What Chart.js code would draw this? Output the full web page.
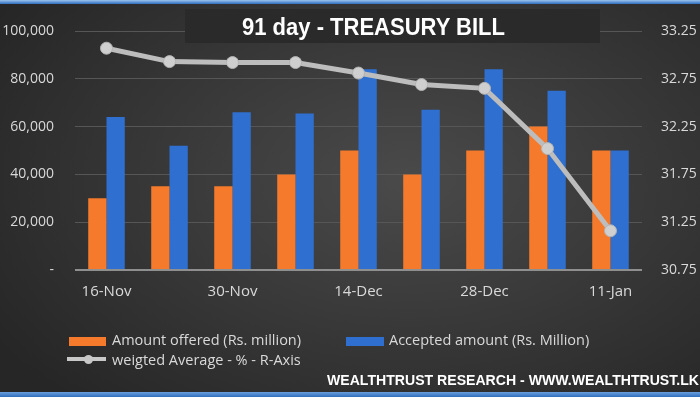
<!DOCTYPE html>
<html>
<head>
<meta charset="utf-8">
<script src="https://cdn.jsdelivr.net/npm/chart.js@4/dist/chart.umd.min.js"></script>
<style>
    html, body { margin: 0; padding: 0; }
    body { width: 700px; height: 400px; overflow: hidden; }
    #wrap {
        position: relative; width: 700px; height: 400px;
        background: radial-gradient(ellipse 70% 75% at 58% 45%, #4a4a4a 0%, #3a3a3a 45%, #262626 100%);
        font-family: "Open Sans", sans-serif;
    }
    #myChart { position: absolute; left: 0; top: 0; }
    .bar-top { position: absolute; left: 0; top: 0; width: 700px; height: 4px;
        background: linear-gradient(#9cc3ef, #2f6dbd); }
    .bar-bot { position: absolute; left: 0; top: 392px; width: 700px; height: 5px;
        background: linear-gradient(#6aa0dd, #2f6dbd); }
    .white-bot { position: absolute; left: 0; top: 397px; width: 700px; height: 3px; background: #fff; }
    #titleBox {
        position: absolute; left: 185px; top: 9px; width: 415px; height: 34px;
        background: #2a2a2a;
    }
    #titel {
        position: absolute; left: 242px; top: 10px; color: #fff; white-space: nowrap;
        font: bold 24px "Liberation Sans", Arial, sans-serif; line-height: 34px;
        transform-origin: 0 50%;
    }
    .leg { position: absolute; color: #d9d9d9; font-size: 14.5px; line-height: 19px; white-space: nowrap; }
    .sw { position: absolute; }
    #footer { position: absolute; left: 327px; top: 371px; color: #fff; white-space: nowrap;
        font: bold 14px "Liberation Sans", Arial, sans-serif; line-height: 18px; transform-origin: 0 50%; }
</style>
</head>
<body>
<div id="wrap">
    <canvas id="myChart" width="700" height="400"></canvas>
    <div class="bar-top"></div>
    <div id="titleBox"></div>
    <div id="titel">91 day - TREASURY BILL</div>
    <div class="sw" style="left:69px;top:337px;width:37px;height:9px;background:#f57a2c"></div>
    <div class="leg" style="left:112px;top:330px">Amount offered (Rs. million)</div>
    <div class="sw" style="left:346px;top:337px;width:38px;height:9px;background:#2f6fcf"></div>
    <div class="leg" style="left:389px;top:330px">Accepted amount (Rs. Million)</div>
    <div class="sw" style="left:67px;top:357px;width:39px;height:4px;background:#c8c8c8"></div>
    <div class="sw" style="left:84px;top:355px;width:9px;height:9px;border-radius:5px;background:#c8c8c8"></div>
    <div class="leg" style="left:112px;top:350px">weigted Average - % - R-Axis</div>
    <div id="footer">WEALTHTRUST RESEARCH - WWW.WEALTHTRUST.LK</div>
    <div class="bar-bot"></div>
    <div class="white-bot"></div>
</div>
<script>
var datum = ["16-Nov", "23-Nov", "30-Nov", "7-Dec", "14-Dec", "21-Dec", "28-Dec", "4-Jan", "11-Jan"];
var angeboten = [30000, 35000, 35000, 40000, 50000, 40000, 50000, 60000, 50000];
var akzeptiert = [64000, 52000, 66000, 65500, 84000, 67000, 84000, 75000, 50000];
var durchschnitt = [33.07, 32.93, 32.92, 32.92, 32.81, 32.69, 32.65, 32.02, 31.16];
var linksTicks = [0, 20000, 40000, 60000, 80000, 100000];
var rechtsTicks = [30.75, 31.25, 31.75, 32.25, 32.75, 33.25];

// schmale Schrift nachbilden
function stauchen(id, breite) {
    var el = document.getElementById(id);
    var w = el.getBoundingClientRect().width;
    el.style.transform = "scaleX(" + (breite / w) + ")";
}
stauchen("titel", 263);
stauchen("footer", 372);

var tickFont = {family: "'Open Sans', sans-serif", size: 14};

var mychart = new Chart(document.getElementById('myChart'), {
    type: 'bar',
    data: {
        labels: datum,
        datasets: [{
                label: "weigted Average - % - R-Axis",
                type: 'line',
                data: durchschnitt,
                yAxisID: 'y1',
                borderColor: "#bdbdbd",
                borderWidth: 5,
                pointRadius: 6,
                pointBackgroundColor: "#cfcfcf",
                pointBorderColor: "#b3b3b3",
                pointBorderWidth: 1,
                order: 0
            }, {
                label: "Amount offered (Rs. million)",
                data: angeboten,
                backgroundColor: "#f57a2c",
                yAxisID: 'y',
                order: 1
            }, {
                label: "Accepted amount (Rs. Million)",
                data: akzeptiert,
                backgroundColor: "#2f6fcf",
                yAxisID: 'y',
                order: 1
            }
        ]
    },
    options: {
        responsive: false,
        animation: false,
        layout: {padding: {top: 31, bottom: 100, left: 0, right: 0}},
        datasets: {bar: {barPercentage: 1, categoryPercentage: 0.58}},
        plugins: {
            legend: {display: false},
            title: {display: false},
            tooltip: {enabled: false}
        },
        scales: {
            x: {
                grid: {display: false, drawTicks: false},
                border: {display: false},
                ticks: {
                    color: "#d9d9d9", font: {family: tickFont.family, size: 15}, padding: 13,
                    autoSkip: false, maxRotation: 0,
                    callback: function (v, i) {
                        return i % 2 === 0 ? datum[i] : '';
                    }
                },
                afterFit: function (s) { s.height = 30; }
            },
            y: {
                position: 'left',
                min: 0,
                max: 100000,
                afterBuildTicks: function (s) { s.ticks = linksTicks.map(v => ({value: v})); },
                grid: {
                    color: function (c) { return c.tick && c.tick.value === 0 ? "#8f8f8f" : "#565656"; },
                    lineWidth: function (c) { return c.tick && c.tick.value === 0 ? 2 : 1; },
                    drawTicks: false
                },
                border: {display: false},
                ticks: {
                    color: "#d9d9d9", font: tickFont, padding: 21,
                    callback: function (v) { return v === 0 ? '-' : v.toLocaleString('en-US'); }
                },
                afterFit: function (s) { s.width = 75; }
            },
            y1: {
                position: 'right',
                min: 30.75,
                max: 33.25,
                afterBuildTicks: function (s) { s.ticks = rechtsTicks.map(v => ({value: v})); },
                grid: {display: false, drawTicks: false},
                border: {display: false},
                ticks: {
                    color: "#d9d9d9", font: tickFont, padding: 19,
                    callback: function (v) { return v.toFixed(2); }
                },
                afterFit: function (s) { s.width = 58; }
            }
        }
    }
});
</script>
</body>
</html>
